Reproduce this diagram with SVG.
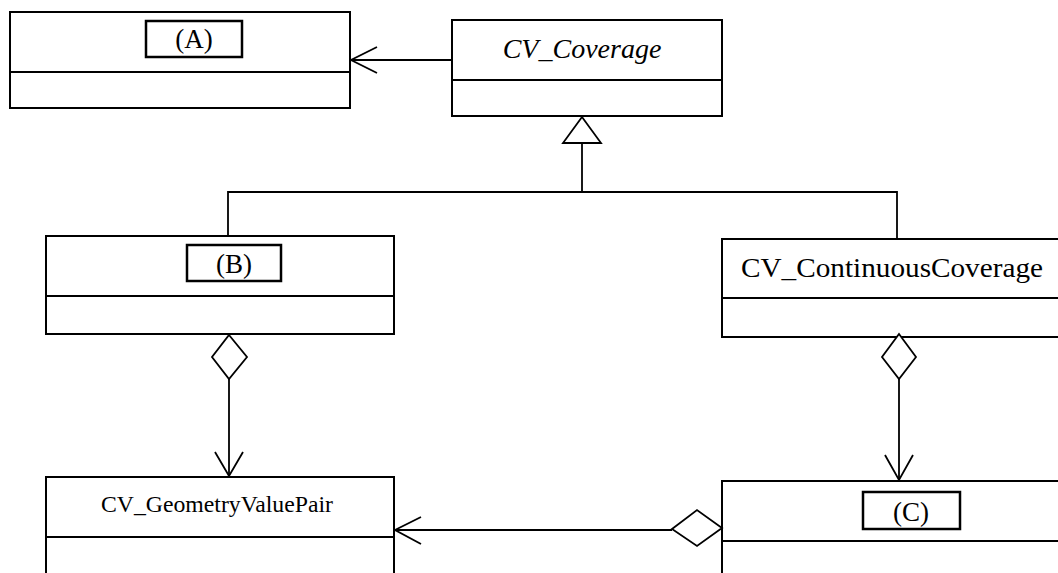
<svg xmlns="http://www.w3.org/2000/svg" width="1058" height="573" viewBox="0 0 1058 573">
  <style>
    .box { fill: #fff; stroke: #000; stroke-width: 2; }
    .div { stroke: #000; stroke-width: 2; fill: none; }
    .tag { fill: #fff; stroke: #000; stroke-width: 2.5; }
    .line { stroke: #000; stroke-width: 1.8; fill: none; }
    .head { stroke: #000; stroke-width: 1.8; fill: #fff; stroke-linejoin: miter; }
    .open { stroke: #000; stroke-width: 1.8; fill: none; }
    .t { font-family: "Liberation Serif", "Times New Roman", serif; fill: #000; text-anchor: middle; }
  </style>
  <rect width="1058" height="573" fill="#fff"/>

  <!-- class (A) -->
  <g id="classA">
    <rect class="box" x="10" y="12" width="340" height="96"/>
    <line class="div" x1="10" y1="72" x2="350" y2="72"/>
    <rect class="tag" x="146" y="21" width="96" height="36"/>
    <text class="t" x="194" y="48" font-size="27">(A)</text>
  </g>

  <!-- abstract class CV_Coverage -->
  <g id="cvCoverage">
    <rect class="box" x="452" y="20" width="270" height="96"/>
    <line class="div" x1="452" y1="80" x2="722" y2="80"/>
    <text class="t" x="582" y="58" font-size="28" font-style="italic">CV_Coverage</text>
  </g>

  <!-- class (B) -->
  <g id="classB">
    <rect class="box" x="46" y="236" width="348" height="98"/>
    <line class="div" x1="46" y1="296" x2="394" y2="296"/>
    <rect class="tag" x="187" y="245" width="94" height="36"/>
    <text class="t" x="234" y="273" font-size="27">(B)</text>
  </g>

  <!-- CV_ContinuousCoverage -->
  <g id="cvContinuousCoverage">
    <rect class="box" x="722" y="239" width="360" height="98"/>
    <line class="div" x1="722" y1="298" x2="1082" y2="298"/>
    <text class="t" x="892" y="277" font-size="28" textLength="302" lengthAdjust="spacingAndGlyphs">CV_ContinuousCoverage</text>
  </g>

  <!-- CV_GeometryValuePair -->
  <g id="cvGeometryValuePair">
    <rect class="box" x="46" y="477" width="348" height="130"/>
    <line class="div" x1="46" y1="537" x2="394" y2="537"/>
    <text class="t" x="217" y="512" font-size="23" textLength="232" lengthAdjust="spacingAndGlyphs">CV_GeometryValuePair</text>
  </g>

  <!-- class (C) -->
  <g id="classC">
    <rect class="box" x="722" y="481" width="360" height="130"/>
    <line class="div" x1="722" y1="541" x2="1082" y2="541"/>
    <rect class="tag" x="863" y="492" width="97" height="37"/>
    <text class="t" x="911" y="521" font-size="27">(C)</text>
  </g>

  <!-- connectors -->
  <g id="connectors">
    <!-- CV_Coverage to (A): navigable association -->
    <line class="line" x1="452" y1="60" x2="351" y2="60"/>
    <polyline class="open" points="377,47 351,60 377,73"/>

    <!-- generalization to CV_Coverage -->
    <polygon class="head" points="582,117 601,143 563,143"/>
    <line class="line" x1="582" y1="143" x2="582" y2="192"/>
    <polyline class="line" points="228,236 228,192 897,192 897,239"/>

    <!-- (B) aggregates CV_GeometryValuePair -->
    <polygon class="head" points="229,335 247,357 229,379 212,357"/>
    <line class="line" x1="229" y1="379" x2="229" y2="476"/>
    <polyline class="open" points="215,452 229,476 243,452"/>

    <!-- CV_ContinuousCoverage aggregates (C) -->
    <polygon class="head" points="899,334 916,357 899,379 882,357"/>
    <line class="line" x1="899" y1="379" x2="899" y2="480"/>
    <polyline class="open" points="885,455 899,480 913,455"/>

    <!-- (C) aggregates CV_GeometryValuePair -->
    <polygon class="head" points="722,528 697,546 672,529 697,510"/>
    <line class="line" x1="672" y1="530" x2="395" y2="530"/>
    <polyline class="open" points="421,517 395,530 421,544"/>
  </g>
</svg>
